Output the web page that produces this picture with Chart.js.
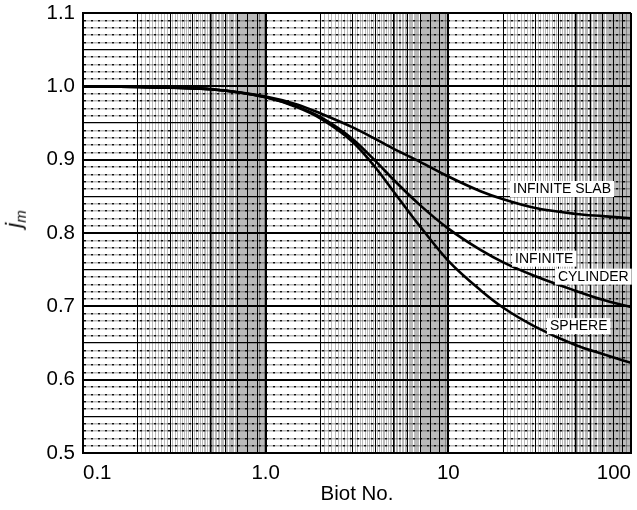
<!DOCTYPE html>
<html>
<head>
<meta charset="utf-8">
<script src="https://cdn.jsdelivr.net/npm/chart.js@4/dist/chart.umd.min.js"></script>
<style>
    html, body { margin: 0; padding: 0; background: #fff; }
    #wrap { position: relative; width: 637px; height: 510px; }
    #yTitle {
        position: absolute; left: 15px; top: 219px;
        transform: translate(-50%, -50%) rotate(-90deg);
        font: italic 22px "Liberation Sans", Arial, sans-serif;
        color: #000; white-space: nowrap;
    }
    #yTitle sub { font-size: 15px; }
</style>
</head>
<body>
<div id="wrap">
    <canvas id="chart"></canvas>
    <div id="yTitle">j<sub>m</sub></div>
</div>
<script>
// Biot number samples (shared by all three curves)
const biot = [0.1, 0.2, 0.5, 1, 1.5, 2, 3, 4, 5, 7, 10, 15, 20, 30, 50, 70, 100];

// j_m
const infiniteSlab = [1.000, 0.999, 0.996, 0.986, 0.975, 0.963, 0.944, 0.928, 0.915, 0.897, 0.877, 0.857, 0.846, 0.834, 0.826, 0.823, 0.820];
const infiniteCylinder = [1.000, 0.999, 0.996, 0.985, 0.972, 0.958, 0.928, 0.898, 0.873, 0.838, 0.806, 0.777, 0.760, 0.741, 0.721, 0.709, 0.699];
const sphere = [1.000, 0.999, 0.996, 0.985, 0.971, 0.956, 0.924, 0.889, 0.857, 0.809, 0.762, 0.722, 0.698, 0.672, 0.647, 0.635, 0.623];

// tick labels
const xTickValues = [0.1, 1, 10, 100];
const xTickLabels = ['0.1', '1.0', '10', '100'];
const yTickValues = [0.5, 0.6, 0.7, 0.8, 0.9, 1.0, 1.1];
const yTickLabels = ['0.5', '0.6', '0.7', '0.8', '0.9', '1.0', '1.1'];

const FONT = '"Liberation Sans", Arial, sans-serif';

// dotted ruling like the graph paper
function makeDotPattern(ctx) {
    const c = document.createElement('canvas');
    c.width = 7; c.height = 1;
    const g = c.getContext('2d');
    g.fillStyle = 'rgba(0,0,0,0.28)';
    g.fillRect(0, 0, 7, 1);
    g.fillStyle = 'rgba(0,0,0,0.9)';
    g.fillRect(0, 0, 2, 1);
    return ctx.createPattern(c, 'repeat');
}

// log paper rulings: every unit of each decade, plus tenths from 2 to 10
function buildXGrid() {
    const vals = [];
    [0.1, 1, 10].forEach(d => {
        for (let k = 10; k < 100; k++) {
            if (k < 20 && k % 10 !== 0) continue;
            vals.push(Number((k * d / 10).toPrecision(6)));
        }
    });
    vals.push(100);
    return vals;
}

function buildYGrid() {
    const vals = [];
    for (let i = 50; i <= 110; i++) vals.push(i / 100);
    return vals;
}

function xKind(v) {
    const e = Math.floor(Math.log10(v) + 1e-9);
    const m = Math.round(v / Math.pow(10, e) * 10) / 10;
    if (Math.abs(m - 1) < 1e-6) return 'decade';
    if (Math.abs(m - 5) < 1e-6) return 'five';
    if (Math.abs(m - Math.round(m)) < 1e-6) return 'unit';
    return 'fine';
}

function yKind(v) {
    const i = Math.round(v * 100);
    if (i % 10 === 0) return 'major';
    if (i % 5 === 0) return 'half';
    return 'fine';
}

function findLabel(values, labels, v) {
    const idx = values.findIndex(t => Math.abs(t - v) < 1e-9);
    return idx >= 0 ? labels[idx] : '';
}

// keep the plot box fixed: no extra room for end labels
function noPadding(scale) {
    scale.paddingTop = 0;
    scale.paddingBottom = 0;
    scale.paddingLeft = 0;
    scale.paddingRight = 0;
}

// curve captions with white boxes, placed in data coordinates
const captionPlugin = {
    id: 'captions',
    afterDatasetsDraw(chart) {
        const items = [
            { text: 'INFINITE SLAB', x: 22.6, y: 0.860 },
            { text: 'INFINITE', x: 23.2, y: 0.765 },
            { text: 'CYLINDER', x: 39.8, y: 0.7405 },
            { text: 'SPHERE', x: 36.0, y: 0.673 }
        ];
        const ctx = chart.ctx;
        const xs = chart.scales.x, ys = chart.scales.y;
        ctx.save();
        ctx.font = '14px ' + FONT;
        ctx.textBaseline = 'middle';
        items.forEach(it => {
            const px = xs.getPixelForValue(it.x);
            const py = ys.getPixelForValue(it.y);
            const w = ctx.measureText(it.text).width;
            ctx.fillStyle = '#fff';
            ctx.fillRect(px - 3, py - 8, w + 6, 16);
            ctx.fillStyle = '#000';
            ctx.fillText(it.text, px, py + 0.5);
        });
        ctx.restore();
    }
};

const canvas = document.getElementById('chart');
const dots = makeDotPattern(canvas.getContext('2d'));

function lineSet(label, values) {
    return {
        label: label,
        data: biot.map((b, i) => ({ x: b, y: values[i] })),
        borderColor: '#000',
        borderWidth: 2.6,
        pointRadius: 0,
        fill: false,
        cubicInterpolationMode: 'monotone'
    };
}

new Chart(canvas, {
    type: 'line',
    data: {
        datasets: [
            lineSet('Infinite slab', infiniteSlab),
            lineSet('Infinite cylinder', infiniteCylinder),
            lineSet('Sphere', sphere)
        ]
    },
    options: {
        responsive: true,
        maintainAspectRatio: false,
        animation: false,
        layout: { padding: { left: 0, right: 6, top: 13, bottom: 0 } },
        plugins: {
            legend: { display: false },
            tooltip: { enabled: false }
        },
        scales: {
            x: {
                type: 'logarithmic',
                min: 0.1,
                max: 100,
                afterBuildTicks: scale => {
                    scale.ticks = buildXGrid().map(v => ({ value: v }));
                },
                afterFit: scale => { scale.height = 57; noPadding(scale); },
                ticks: {
                    autoSkip: false,
                    maxRotation: 0,
                    minRotation: 0,
                    align: 'inner',
                    padding: 8,
                    color: '#000',
                    font: { family: FONT, size: 20.5 },
                    callback: v => findLabel(xTickValues, xTickLabels, v)
                },
                grid: {
                    drawTicks: false,
                    color: c => {
                        const k = xKind(c.tick.value);
                        return k === 'fine' ? 'rgba(0,0,0,0.34)' : '#000';
                    },
                    lineWidth: c => {
                        const k = xKind(c.tick.value);
                        if (k === 'decade') return 2;
                        if (k === 'five') return 1.6;
                        if (k === 'unit') return 1;
                        return 0.8;
                    }
                },
                border: { display: true, color: '#000', width: 2 },
                title: {
                    display: true,
                    text: 'Biot No.',
                    color: '#000',
                    font: { family: FONT, size: 20.5 },
                    padding: { top: 0, bottom: 3 }
                }
            },
            y: {
                type: 'linear',
                min: 0.5,
                max: 1.1,
                afterBuildTicks: scale => {
                    scale.ticks = buildYGrid().map(v => ({ value: v }));
                },
                afterFit: scale => { scale.width = 83; noPadding(scale); },
                ticks: {
                    autoSkip: false,
                    padding: 8,
                    color: '#000',
                    font: { family: FONT, size: 20.5 },
                    callback: v => findLabel(yTickValues, yTickLabels, v)
                },
                grid: {
                    drawTicks: false,
                    color: c => {
                        const k = yKind(c.tick.value);
                        return k === 'fine' ? dots : '#000';
                    },
                    lineWidth: c => {
                        const k = yKind(c.tick.value);
                        if (k === 'major') return 2;
                        if (k === 'half') return 1.3;
                        return 1.5;
                    }
                },
                border: { display: true, color: '#000', width: 2 }
            }
        }
    },
    plugins: [captionPlugin]
});
</script>
</body>
</html>
